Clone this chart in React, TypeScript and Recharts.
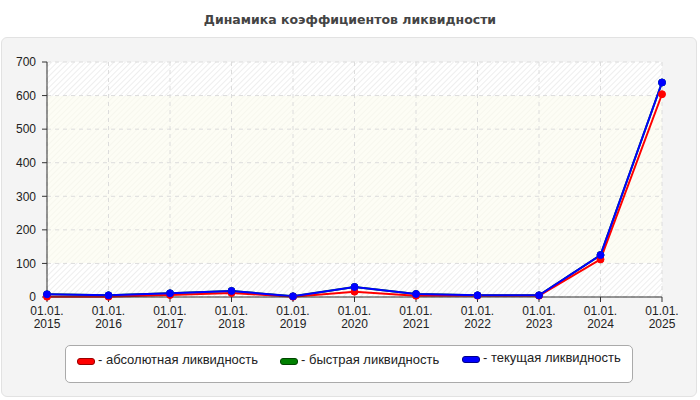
import React from 'react';
import { LineChart, Line, XAxis, YAxis, CartesianGrid } from 'recharts';

const dates = [
  '01.01.2015', '01.01.2016', '01.01.2017', '01.01.2018', '01.01.2019', '01.01.2020',
  '01.01.2021', '01.01.2022', '01.01.2023', '01.01.2024', '01.01.2025',
];
const absoluteLiquidity = [1, 1, 6, 12, 1, 16, 4, 4, 4, 112, 604];
const quickLiquidity = [8, 5, 11, 18, 2, 30, 9, 5, 5, 125, 639];
const currentLiquidity = [8, 5, 11, 18, 2, 30, 9, 5, 5, 125, 639];
const yTicks = [0, 100, 200, 300, 400, 500, 600, 700];

const RED = '#ff0000';
const GREEN = '#008000';
const BLUE = '#0000ff';
const FONT = '"Liberation Sans", Arial, sans-serif';

const data = dates.map((date, i) => ({
  date,
  absolute: absoluteLiquidity[i],
  quick: quickLiquidity[i],
  current: currentLiquidity[i],
}));

const legendItems = [
  { label: '- абсолютная ликвидность', color: RED, left: 77, top: 358, dark: '#900' },
  { label: '- быстрая ликвидность', color: GREEN, left: 280, top: 358, dark: '#040' },
  { label: '- текущая ликвидность', color: BLUE, left: 462, top: 356, dark: '#008' },
];

function DateTick(props: { x?: number; y?: number; payload?: { value: string } }) {
  const { x = 0, y = 0, payload } = props;
  const v = payload?.value ?? '';
  return (
    <text x={x} y={y} textAnchor="middle" fill="#222" fontSize={12} fontFamily={FONT}>
      <tspan x={x} dy={11}>{v.slice(0, 6)}</tspan>
      <tspan x={x} dy={13}>{v.slice(6)}</tspan>
    </text>
  );
}

export default function App() {
  const hatch = 'url(#hatchWhite)';
  const band = 'url(#hatchYellow)';
  return (
    <div style={{ position: 'absolute', left: 0, top: 0, width: 700, height: 400, background: '#fff', fontFamily: FONT }}>
      <svg width={0} height={0} style={{ position: 'absolute' }}>
        <defs>
          <pattern id="hatchWhite" width={4} height={4} patternUnits="userSpaceOnUse" patternTransform="rotate(45)">
            <rect width={4} height={4} fill="#ffffff" />
            <line x1={0} y1={0} x2={0} y2={4} stroke="#e9e9e9" strokeWidth={1.5} />
          </pattern>
          <pattern id="hatchYellow" width={4} height={4} patternUnits="userSpaceOnUse" patternTransform="rotate(45)">
            <rect width={4} height={4} fill="#fdfdf5" />
            <line x1={0} y1={0} x2={0} y2={4} stroke="#f5f5ec" strokeWidth={1.5} />
          </pattern>
        </defs>
      </svg>
      <div
        style={{
          position: 'absolute', left: 0, top: 12, width: 700, textAlign: 'center',
          fontSize: 12.5, fontWeight: 'bold', color: '#444', fontFamily: '"DejaVu Sans", Verdana, sans-serif',
        }}
      >
        Динамика коэффициентов ликвидности
      </div>
      <div
        style={{
          position: 'absolute', left: 1, top: 37, width: 694, height: 358,
          background: '#f4f4f4', border: '1px solid #e2e2e2', borderRadius: 6,
        }}
      />
      <div style={{ position: 'absolute', left: 0, top: 0 }}>
        <LineChart width={700} height={400} data={data} margin={{ top: 62, right: 38, bottom: 63, left: 7 }}>
          <CartesianGrid
            stroke="#dcdcdc"
            strokeDasharray="4 4"
            fill="#fff"
            fillOpacity={1}
            horizontalFill={[hatch, band, band, band, band, band, hatch]}
          />
          <XAxis
            dataKey="date"
            interval={0}
            height={40}
            tickSize={5}
            stroke="#333"
            tick={<DateTick />}
          />
          <YAxis
            type="number"
            domain={[0, 700]}
            ticks={yTicks}
            width={40}
            tickSize={5}
            tickMargin={6}
            stroke="#333"
            tick={{ fill: '#222', fontSize: 12, fontFamily: FONT }}
          />
          <Line dataKey="quick" stroke={GREEN} strokeWidth={2} dot={{ r: 3.5, fill: GREEN, stroke: GREEN, strokeWidth: 1 }} isAnimationActive={false} />
          <Line dataKey="absolute" stroke={RED} strokeWidth={2} dot={{ r: 3.5, fill: RED, stroke: RED, strokeWidth: 1 }} isAnimationActive={false} />
          <Line dataKey="current" stroke={BLUE} strokeWidth={2} dot={{ r: 3.5, fill: BLUE, stroke: BLUE, strokeWidth: 1 }} isAnimationActive={false} />
        </LineChart>
      </div>
      <div
        style={{
          position: 'absolute', left: 65, top: 345, width: 566, height: 36,
          background: '#fff', border: '1px solid #aaa', borderRadius: 5,
        }}
      />
      {legendItems.map((it) => (
        <React.Fragment key={it.label}>
          <div
            style={{
              position: 'absolute', left: it.left, top: it.top, width: 16, height: 5,
              background: it.color, border: `1px solid ${it.dark}`, borderRadius: 3,
            }}
          />
          <div
            style={{
              position: 'absolute', left: it.left + 21, top: it.top - 5, fontSize: 13,
              color: '#222', lineHeight: '14px', whiteSpace: 'nowrap',
            }}
          >
            {it.label}
          </div>
        </React.Fragment>
      ))}
    </div>
  );
}
